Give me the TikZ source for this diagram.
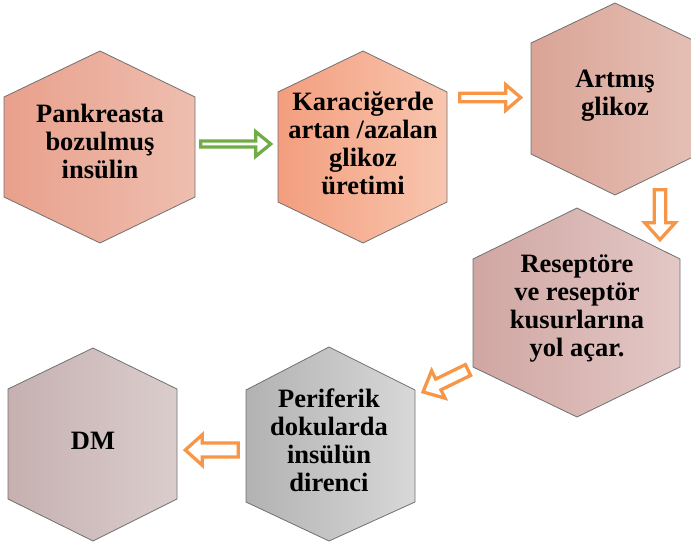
\documentclass[tikz,border=0pt]{standalone}
\usepackage{fontspec}
\setmainfont{Liberation Serif}
\definecolor{orangeA}{RGB}{247,150,70}
\definecolor{greenA}{RGB}{112,173,71}
\definecolor{hexedge}{RGB}{112,112,112}
\definecolor{hA1}{RGB}{233,160,140}\definecolor{hA2}{RGB}{238,190,175}
\definecolor{hB1}{RGB}{243,158,126}\definecolor{hB2}{RGB}{248,198,175}
\definecolor{hC1}{RGB}{218,164,150}\definecolor{hC2}{RGB}{229,192,182}
\definecolor{hD1}{RGB}{208,166,162}\definecolor{hD2}{RGB}{227,200,198}
\definecolor{hE1}{RGB}{198,176,176}\definecolor{hE2}{RGB}{219,205,205}
\definecolor{hF1}{RGB}{178,178,178}\definecolor{hF2}{RGB}{216,216,216}
\tikzset{
  hexbox/.style={draw=hexedge, line width=0.8pt},
  hextext/.style={font=\bfseries\fontsize{26.5}{28}\selectfont, align=center, inner sep=0pt, text=black},
  blockline/.style={line width=3.3pt, fill=white, line join=miter}
}
% #1 tail coordinate, #2 angle, #3 colour, #4 length, #5 head length, #6 head half width, #7 shaft half width
\newcommand\blkarrow[7]{%
  \draw[blockline, draw=#3, shift={(#1)}, rotate=#2]
    (0,-#7) -- (#4-#5,-#7) -- (#4-#5,-#6) -- (#4,0) -- (#4-#5,#6) -- (#4-#5,#7) -- (0,#7) -- cycle;}
\begin{document}
\begin{tikzpicture}[x=1pt,y=-1pt]
\useasboundingbox (0,0) rectangle (691,543);
\clip (0,0) rectangle (691,543);
% hexagons
\shade[hexbox, left color=hA1, right color=hA2] (100,51) -- (195,97) -- (195,197) -- (100,243) -- (4,197) -- (4,97) -- cycle;
\shade[hexbox, left color=hB1, right color=hB2] (363,51) -- (447,92) -- (447,202) -- (363,243) -- (278,202) -- (278,92) -- cycle;
\shade[hexbox, left color=hC1, right color=hC2] (615,3) -- (699,43) -- (699,154) -- (615,195) -- (531,154) -- (531,43) -- cycle;
\shade[hexbox, left color=hD1, right color=hD2] (577,208) -- (680,259) -- (680,367) -- (577,417) -- (473,367) -- (473,259) -- cycle;
\shade[hexbox, left color=hE1, right color=hE2] (93,348) -- (177,389) -- (177,499) -- (93,541) -- (8,499) -- (8,389) -- cycle;
\shade[hexbox, left color=hF1, right color=hF2] (329,347) -- (415,390) -- (415,502) -- (329,541) -- (246,502) -- (246,390) -- cycle;
% texts
\node[hextext] (t1) at (100,141.3) {Pankreasta\\bozulmuş\\insülin};
\node[hextext] (t2) at (363,143.8) {Karaciğerde\\artan /azalan\\glikoz\\üretimi};
\node[hextext] (t3) at (615,95.6) {Artmış\\glikoz};
\node[hextext] (t4) at (577,308.6) {Reseptöre\\ve reseptör\\kusurlarına\\yol açar.};
\node[hextext] (t5) at (93,440.5) {DM};
\node[hextext] (t6) at (329,439.8) {Periferik\\dokularda\\insülün\\direnci};
% arrows
\coordinate (a1) at (200.7,144);
\coordinate (a2) at (459.7,97.5);
\coordinate (a3) at (660,189.7);
\coordinate (a4) at (468,370);
\coordinate (a5) at (238.3,450);
\blkarrow{a1}{0}{greenA}{70}{15}{12.3}{3}
\blkarrow{a2}{0}{orangeA}{61}{15}{12.8}{4.3}
\blkarrow{a3}{270}{orangeA}{50}{17}{15.3}{5.8}
\blkarrow{a4}{206}{orangeA}{50}{17}{15.3}{6}
\blkarrow{a5}{180}{orangeA}{53}{17}{15.3}{7}
\end{tikzpicture}
\end{document}
